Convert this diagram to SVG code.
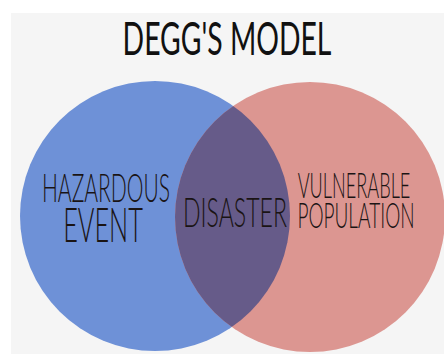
<svg xmlns="http://www.w3.org/2000/svg" width="444" height="354" viewBox="0 0 444 354">
<defs>
<style>
.lbl{font-family:"Lato","Liberation Sans",sans-serif;fill:#1a1414;font-weight:300}
.title{font-family:"Lato","Liberation Sans",sans-serif;fill:#111;font-weight:400}
</style>
<clipPath id="clipBlue"><circle cx="155" cy="216" r="135"/></clipPath>
</defs>
<rect x="0" y="0" width="444" height="354" fill="#ffffff"/>
<rect x="11" y="13" width="433" height="341" fill="#f5f5f5"/>
<text class="title" transform="translate(227,55) scale(0.58,1)" x="0" y="0" font-size="47" text-anchor="middle" textLength="360" lengthAdjust="spacingAndGlyphs">DEGG'S MODEL</text>
<g id="hazard">
<circle cx="155" cy="216" r="135" fill="#6e91d7"/>
<text class="lbl" transform="translate(106,202) scale(0.55,1)" x="0" y="0" font-size="40" text-anchor="middle" textLength="233" lengthAdjust="spacingAndGlyphs">HAZARDOUS</text>
<text class="lbl" transform="translate(103,242) scale(0.55,1)" x="0" y="0" font-size="48" text-anchor="middle" textLength="145" lengthAdjust="spacingAndGlyphs">EVENT</text>
</g>
<g id="vulnerable">
<circle cx="310" cy="217" r="135" fill="#dc9691"/>
<text class="lbl" transform="translate(354,198) scale(0.55,1)" x="0" y="0" font-size="35" text-anchor="middle" textLength="205" lengthAdjust="spacingAndGlyphs">VULNERABLE</text>
<text class="lbl" transform="translate(356,228) scale(0.55,1)" x="0" y="0" font-size="35" text-anchor="middle" textLength="213" lengthAdjust="spacingAndGlyphs">POPULATION</text>
</g>
<g id="disaster">
<circle cx="310" cy="217" r="135" fill="#665b89" clip-path="url(#clipBlue)"/>
<text class="lbl" transform="translate(235,227) scale(0.55,1)" x="0" y="0" font-size="42" text-anchor="middle" textLength="189" lengthAdjust="spacingAndGlyphs">DISASTER</text>
</g>
<g id="connectors"></g>
</svg>
